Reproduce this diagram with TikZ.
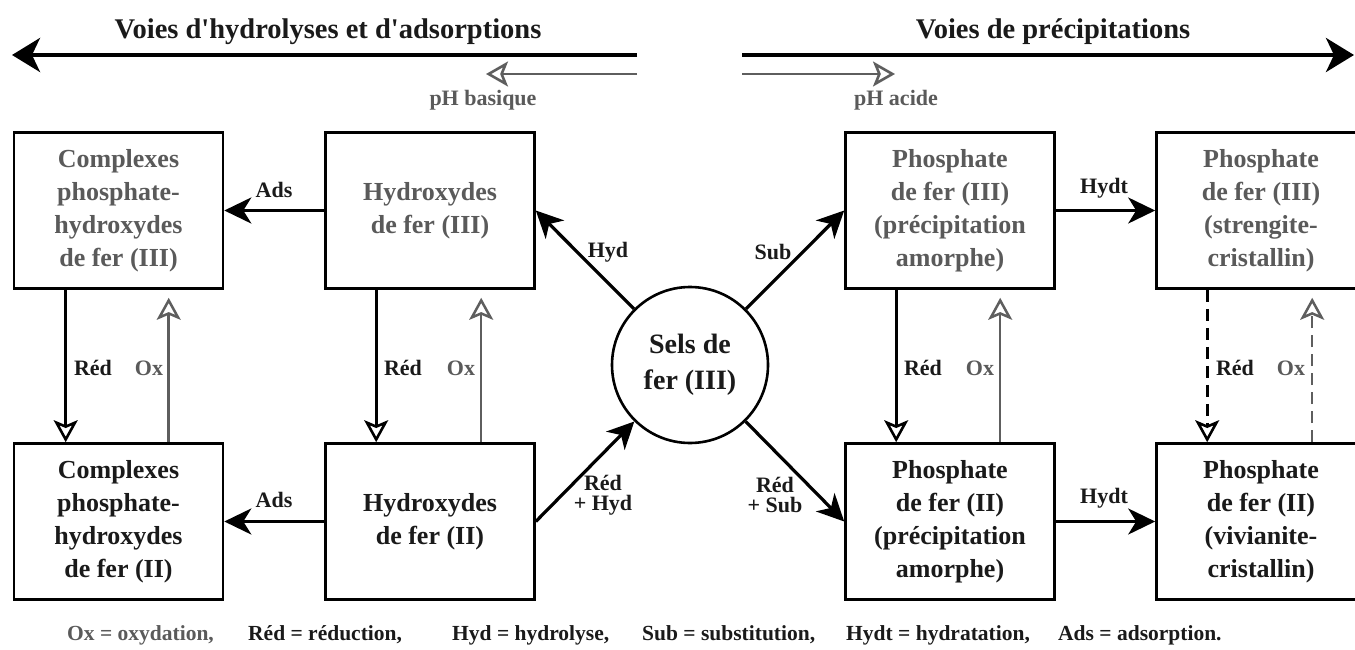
\documentclass[tikz,border=0pt]{standalone}
\usepackage{fontspec}
\setmainfont{Liberation Serif}[Ligatures=TeXOff]
\usetikzlibrary{arrows.meta}
\definecolor{txtgray}{HTML}{5A5A5A}
\definecolor{linegray}{HTML}{5E5E5E}
\definecolor{darktxt}{HTML}{1A1A1A}
\begin{document}
\begin{tikzpicture}[x=1pt,y=-1pt,
  box/.style={draw, line width=2.6pt, minimum width=209pt, minimum height=156pt, inner sep=0pt, align=center, text=darktxt, font=\fontsize{26}{33}\selectfont\bfseries},
  topt/.style={text=txtgray},
  lab/.style={font=\fontsize{22}{20}\selectfont\bfseries, inner sep=0pt, align=center, text=darktxt},
  oxlab/.style={lab, text=txtgray},
  fillarr/.style={line width=3.2pt, -{Stealth[length=27pt,width=26pt,inset=8pt]}},
  redarr/.style={line width=2.6pt, -{Stealth[open,length=22pt,width=24pt,inset=5pt]}},
  oxarr/.style={draw=linegray, line width=2.5pt, -{Stealth[open,length=22pt,width=24pt,inset=5pt]}, shorten >=8pt},
  dashy/.style={dash pattern=on 12pt off 7pt},
  bigarr/.style={line width=4pt, -{Stealth[length=28pt,width=34pt,inset=8pt]}},
  hollowarr/.style={draw=linegray, line width=2.6pt, -{Stealth[open,length=22pt,width=25pt,inset=5pt]}},
  title/.style={font=\fontsize{28.5}{30}\selectfont\bfseries, anchor=base, inner sep=0pt, text=darktxt},
  phlab/.style={font=\fontsize{22}{24}\selectfont\bfseries, anchor=base, inner sep=0pt, text=txtgray},
  foot/.style={font=\fontsize{21.5}{24}\selectfont\bfseries, anchor=base west, inner sep=0pt, text=darktxt}
]
\useasboundingbox (0,0) rectangle (1355,650);
\fill[white] (0,0) rectangle (1355,650);
\clip (0,0) rectangle (1355,650);

% titles and direction arrows
\node[title] (T1) at (328,39) {Voies d'hydrolyses et d'adsorptions};
\node[title] (T2) at (1053,39) {Voies de précipitations};
\coordinate (L1s) at (637,55); \coordinate (L1t) at (12,55);
\coordinate (R1s) at (742,55); \coordinate (R1t) at (1354,55);
\coordinate (L2s) at (637,74); \coordinate (L2t) at (486,74);
\coordinate (R2s) at (742,74); \coordinate (R2t) at (895,74);
\draw[bigarr] (L1s) -- (L1t);
\draw[bigarr] (R1s) -- (R1t);
\draw[hollowarr] (L2s) -- (L2t);
\draw[hollowarr] (R2s) -- (R2t);
\node[phlab] (pHb) at (483,106) {pH basique};
\node[phlab] (pHa) at (896,106) {pH acide};

% boxes
\node[box,topt] (B1) at (118.5,210.5) {Complexes\\phosphate-\\hydroxydes\\de fer (III)};
\node[box,topt] (B2) at (430,210.5) {Hydroxydes\\de fer (III)};
\node[box,topt] (B3) at (950,210.5) {Phosphate\\de fer (III)\\(précipitation\\amorphe)};
\node[box,topt] (B4) at (1261,210.5) {Phosphate\\de fer (III)\\(strengite-\\cristallin)};
\node[box] (B5) at (118.5,521.5) {Complexes\\phosphate-\\hydroxydes\\de fer (II)};
\node[box] (B6) at (430,521.5) {Hydroxydes\\de fer (II)};
\node[box] (B7) at (950,521.5) {Phosphate\\de fer (II)\\(précipitation\\amorphe)};
\node[box] (B8) at (1261,521.5) {Phosphate\\de fer (II)\\(vivianite-\\cristallin)};

% central circle
\node[circle, draw, line width=2.6pt, minimum size=156pt, inner sep=0pt, align=center, text=darktxt,
      font=\fontsize{28}{36}\selectfont\bfseries] (C) at (690,365) {Sels de\\fer (III)};

% horizontal arrows
\draw[fillarr] (B2.west) -- (B1.east);
\draw[fillarr] (B6.west) -- (B5.east);
\draw[fillarr] (B3.east) -- (B4.west);
\draw[fillarr] (B7.east) -- (B8.west);
\node[lab] (a1) at (274,190) {Ads};
\node[lab] (a2) at (274,500) {Ads};
\node[lab] (h1) at (1104,188) {Hydt};
\node[lab] (h2) at (1104,498) {Hydt};

% diagonal arrows
\draw[fillarr] (C) -- (B2.east);
\draw[fillarr] (C) -- (B3.west);
\draw[fillarr] (B6.east) -- (C);
\draw[fillarr] (C) -- (B7.west);
\node[lab] (d1) at (608,252) {Hyd};
\node[lab] (d2) at (773,252) {Sub};
\node[lab] (d3) at (603,495) {Réd\\+ Hyd};
\node[lab] (d4) at (775,495) {Réd\\+ Sub};

% vertical redox arrows
\draw[redarr] ([xshift=53pt]B1.south west) -- ([xshift=53pt]B5.north west);
\draw[oxarr] ([xshift=156pt]B5.north west) -- ([xshift=156pt]B1.south west);
\draw[redarr] ([xshift=52pt]B2.south west) -- ([xshift=52pt]B6.north west);
\draw[oxarr] ([xshift=157pt]B6.north west) -- ([xshift=157pt]B2.south west);
\draw[redarr] ([xshift=52pt]B3.south west) -- ([xshift=52pt]B7.north west);
\draw[oxarr] ([xshift=156pt]B7.north west) -- ([xshift=156pt]B3.south west);
\draw[redarr,dashy] ([xshift=52pt]B4.south west) -- ([xshift=52pt]B8.north west);
\draw[oxarr,dashy] ([xshift=157pt]B8.north west) -- ([xshift=157pt]B4.south west);

\node[lab] (r1) at (93,368) {Réd};
\node[oxlab] (o1) at (149,368) {Ox};
\node[lab] (r2) at (403,368) {Réd};
\node[oxlab] (o2) at (461,368) {Ox};
\node[lab] (r3) at (923,368) {Réd};
\node[oxlab] (o3) at (980,368) {Ox};
\node[lab] (r4) at (1235,368) {Réd};
\node[oxlab] (o4) at (1291,368) {Ox};

% legend
\node[foot, text=txtgray] (f1) at (67,640) {Ox = oxydation,};
\node[foot] (f2) at (248,640) {Réd = réduction,};
\node[foot] (f3) at (452,640) {Hyd = hydrolyse,};
\node[foot] (f4) at (642,640) {Sub = substitution,};
\node[foot] (f5) at (846,640) {Hydt = hydratation,};
\node[foot] (f6) at (1058,640) {Ads = adsorption.};
\end{tikzpicture}
\end{document}
